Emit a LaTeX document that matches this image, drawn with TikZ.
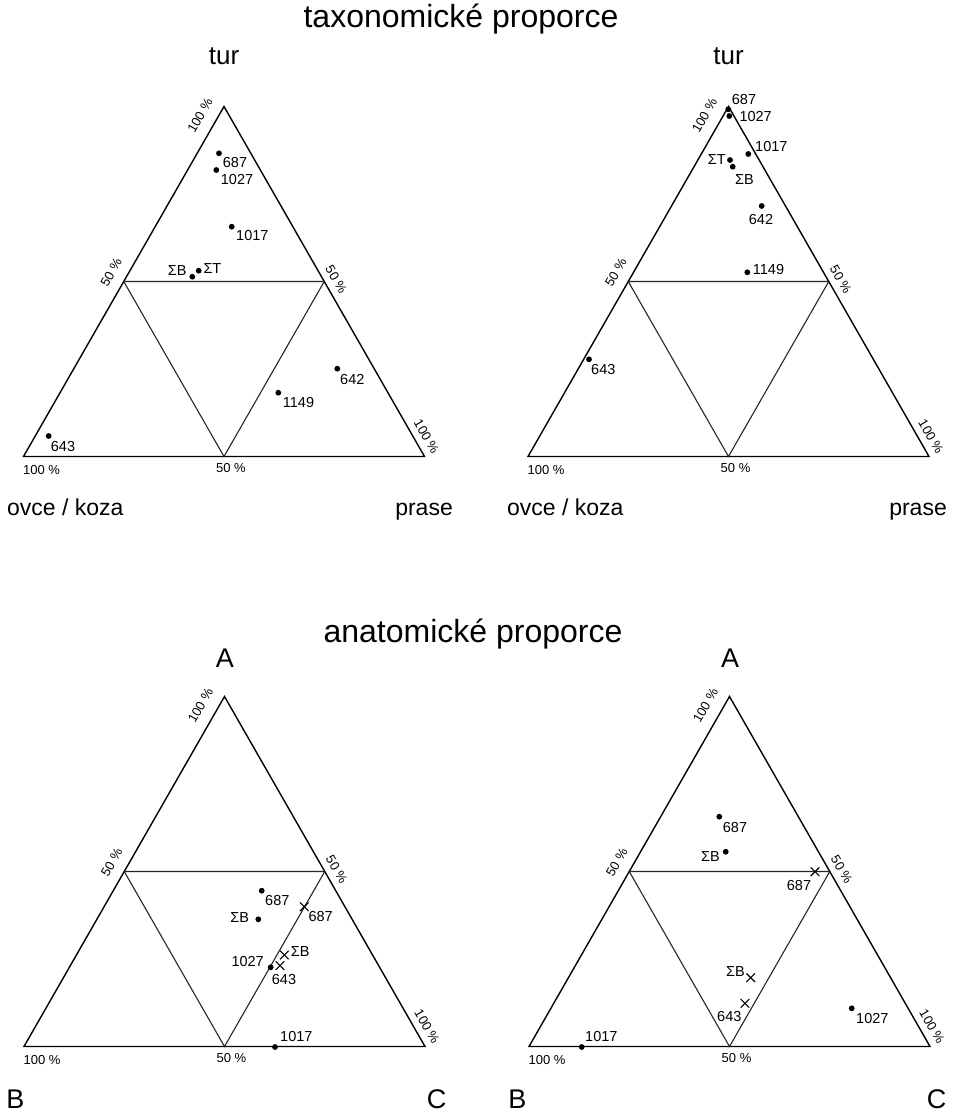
\documentclass[tikz,border=0pt]{standalone}
\usepackage{fontspec}
\setmainfont{Liberation Sans}
\usetikzlibrary{calc,shapes.misc}
\tikzset{
 triframe/.style={line width=1.4pt, black},
 trigrid/.style={line width=1.1pt, black!85},
 pct/.style={font=\fontsize{13}{13}\selectfont, inner sep=0pt},
 lbl/.style={font=\fontsize{14.5}{15}\selectfont, inner sep=0pt},
 dot/.style={circle, fill=black, inner sep=0pt, minimum size=5.8pt},
 xmark/.style={cross out, draw, line width=1.1pt, minimum size=7.5pt, inner sep=0pt},
 axis/.style={font=\fontsize{23}{25}\selectfont, inner sep=0pt},
 toplbl/.style={font=\fontsize{26}{28}\selectfont, inner sep=0pt},
 vert/.style={font=\fontsize{27}{29}\selectfont, inner sep=0pt},
 ttl/.style={font=\fontsize{32}{34}\selectfont, inner sep=0pt},
}
\newcommand\ternframe[3]{%
 \coordinate (#1-B) at (#2,#3);
 \coordinate (#1-C) at ($(#1-B)+(401,0)$);
 \coordinate (#1-A) at ($(#1-B)+(200.5,-350)$);
 \coordinate (#1-AB) at ($(#1-A)!0.5!(#1-B)$);
 \coordinate (#1-AC) at ($(#1-A)!0.5!(#1-C)$);
 \coordinate (#1-BC) at ($(#1-B)!0.5!(#1-C)$);
 \draw[triframe] (#1-A) -- (#1-B) -- (#1-C) -- cycle;
 \draw[trigrid] (#1-AB) -- (#1-AC) -- (#1-BC) -- cycle;
 \node[pct, rotate=60] (#1-p1) at ($(#1-A)+(-24,9)$) {100 \%};
 \node[pct, rotate=60] (#1-p2) at ($(#1-AB)+(-12.5,-9)$) {50 \%};
 \node[pct, rotate=-60] (#1-p3) at ($(#1-AC)+(12,-2)$) {50 \%};
 \node[pct, rotate=-60] (#1-p4) at ($(#1-C)+(2,-20)$) {100 \%};
 \node[pct] (#1-p5) at ($(#1-B)+(18,14)$) {100 \%};
 \node[pct] (#1-p6) at ($(#1-BC)+(7,12)$) {50 \%};
}
\begin{document}
\begin{tikzpicture}[x=1pt,y=-1pt]
\useasboundingbox[fill=white] (0,0) rectangle (954,1115);
% titles
\node[ttl, anchor=base] (title1) at (461,28) {taxonomické proporce};
\node[ttl, anchor=base] (title2) at (473,642) {anatomické proporce};

% ---------- triangle 1 ----------
\ternframe{t1}{23.5}{456.5}
\node[toplbl, anchor=base] (t1-top) at (224,65) {tur};
\node[axis, anchor=base west] (t1-left) at (7,515) {ovce / koza};
\node[axis, anchor=base east] (t1-right) at (453,515) {prase};
\node[dot] (t1-d687) at (219,153.3) {};
\node[lbl, anchor=west] (t1-l687) at (222.7,162.7) {687};
\node[dot] (t1-d1027) at (216.3,170) {};
\node[lbl, anchor=west] (t1-l1027) at (220.7,180) {1027};
\node[dot] (t1-d1017) at (231.7,226.7) {};
\node[lbl, anchor=west] (t1-l1017) at (236,236) {1017};
\node[dot] (t1-dSB) at (192.3,276.7) {};
\node[lbl, anchor=east] (t1-lSB) at (186.7,270.7) {ΣB};
\node[dot] (t1-dST) at (198.7,270.7) {};
\node[lbl, anchor=west] (t1-lST) at (203.3,268.3) {ΣT};
\node[dot] (t1-d642) at (337.3,368.7) {};
\node[lbl, anchor=west] (t1-l642) at (340,379.3) {642};
\node[dot] (t1-d1149) at (278.3,392.7) {};
\node[lbl, anchor=west] (t1-l1149) at (282.7,402.7) {1149};
\node[dot] (t1-d643) at (48.7,436) {};
\node[lbl, anchor=west] (t1-l643) at (50.7,446.7) {643};

% ---------- triangle 2 ----------
\ternframe{t2}{528}{456.5}
\node[toplbl, anchor=base] (t2-top) at (728.5,65) {tur};
\node[axis, anchor=base west] (t2-left) at (507,515) {ovce / koza};
\node[axis, anchor=base east] (t2-right) at (947,515) {prase};
\node[dot] (t2-d687) at (728.3,109.3) {};
\node[lbl, anchor=west] (t2-l687) at (731.7,99.3) {687};
\node[dot] (t2-d1027) at (729.3,116) {};
\node[lbl, anchor=west] (t2-l1027) at (739.3,116.7) {1027};
\node[dot] (t2-d1017) at (748.3,154) {};
\node[lbl, anchor=west] (t2-l1017) at (755,146.7) {1017};
\node[dot] (t2-dST) at (730,160) {};
\node[lbl, anchor=east] (t2-lST) at (726,159.3) {ΣT};
\node[dot] (t2-dSB) at (732.7,166.7) {};
\node[lbl, anchor=west] (t2-lSB) at (735,179.3) {ΣB};
\node[dot] (t2-d642) at (761.7,206) {};
\node[lbl, anchor=west] (t2-l642) at (748.7,219.3) {642};
\node[dot] (t2-d1149) at (747.3,272.3) {};
\node[lbl, anchor=west] (t2-l1149) at (752.7,269.3) {1149};
\node[dot] (t2-d643) at (589,359.3) {};
\node[lbl, anchor=west] (t2-l643) at (591,370) {643};

% ---------- triangle 3 ----------
\ternframe{t3}{24}{1046.5}
\node[vert, anchor=base] (t3-top) at (225,667) {A};
\node[vert, anchor=base] (t3-left) at (15.5,1108) {B};
\node[vert, anchor=base] (t3-right) at (436.7,1108) {C};
\node[dot] (t3-d687) at (261.7,890.7) {};
\node[lbl, anchor=west] (t3-l687) at (265,900.7) {687};
\node[dot] (t3-dSB) at (258.3,919.3) {};
\node[lbl, anchor=east] (t3-lSB) at (249.3,917.3) {ΣB};
\node[xmark] (t3-x687) at (304.3,906.7) {};
\node[lbl, anchor=west] (t3-lx687) at (308.3,916) {687};
\node[xmark] (t3-xSB) at (284.3,955) {};
\node[lbl, anchor=west] (t3-lxSB) at (290.7,951.7) {ΣB};
\node[xmark] (t3-x643) at (280,965.7) {};
\node[lbl, anchor=west] (t3-lx643) at (271.7,979.3) {643};
\node[dot] (t3-d1027) at (270.7,967.3) {};
\node[lbl, anchor=east] (t3-l1027) at (264,961.7) {1027};
\node[dot] (t3-d1017) at (275,1047) {};
\node[lbl, anchor=west] (t3-l1017) at (280,1036.7) {1017};

% ---------- triangle 4 ----------
\ternframe{t4}{529}{1046.5}
\node[vert, anchor=base] (t4-top) at (730,667) {A};
\node[vert, anchor=base] (t4-left) at (517.3,1108) {B};
\node[vert, anchor=base] (t4-right) at (936.7,1108) {C};
\node[dot] (t4-d687) at (719.3,816.7) {};
\node[lbl, anchor=west] (t4-l687) at (722.7,827.3) {687};
\node[dot] (t4-dSB) at (725.7,851.7) {};
\node[lbl, anchor=east] (t4-lSB) at (720,856.7) {ΣB};
\node[xmark] (t4-x687) at (815,871.7) {};
\node[lbl] (t4-lx687) at (799,885) {687};
\node[xmark] (t4-xSB) at (750.7,977.7) {};
\node[lbl, anchor=east] (t4-lxSB) at (745,971.7) {ΣB};
\node[xmark] (t4-x643) at (745,1003.3) {};
\node[lbl] (t4-lx643) at (729.3,1016) {643};
\node[dot] (t4-d1027) at (851.7,1008.3) {};
\node[lbl, anchor=west] (t4-l1027) at (856,1018.3) {1027};
\node[dot] (t4-d1017) at (581.7,1047) {};
\node[lbl, anchor=west] (t4-l1017) at (585,1036.7) {1017};
\end{tikzpicture}
\end{document}
